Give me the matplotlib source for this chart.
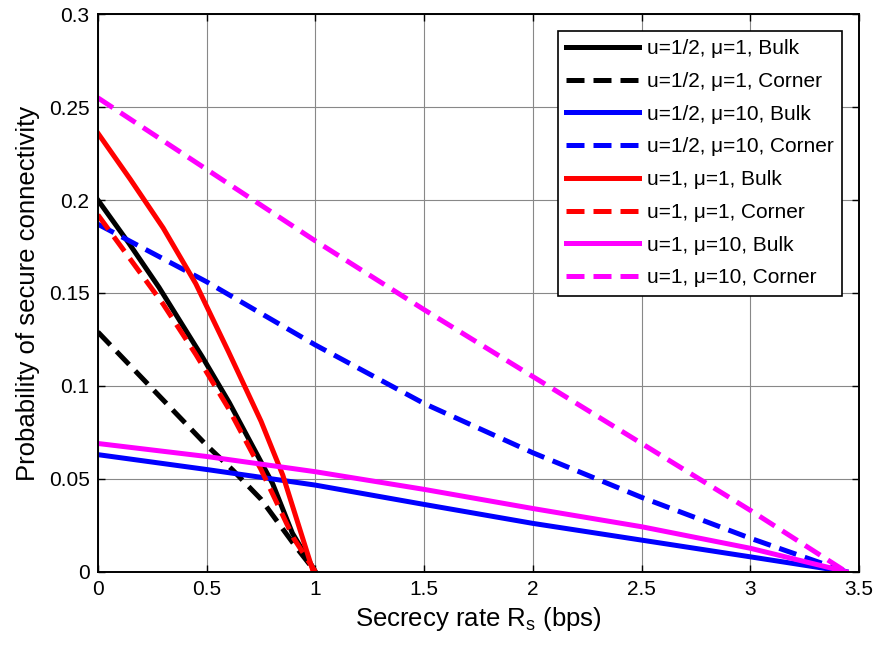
import numpy as np
import matplotlib
matplotlib.use("Agg")
import matplotlib.pyplot as plt

plt.rcParams['font.family'] = ['Liberation Sans', 'DejaVu Sans']

# curves (x in bps, y probability)
x_h1_bulk = [0, 0.143, 0.281, 0.48, 0.604, 0.803, 0.894, 1.0]
y_h1_bulk = [0.200, 0.1767, 0.153, 0.1156, 0.091, 0.0475, 0.0208, 0.0]

x_h1_corner = [0, 0.25, 0.5, 0.62, 0.75, 0.91, 1.0]
y_h1_corner = [0.129, 0.0985, 0.068, 0.0547, 0.039, 0.0134, 0.0]

x_h10_bulk = [0, 0.5, 1.0, 1.5, 2.0, 2.5, 3.0, 3.44]
y_h10_bulk = [0.063, 0.055, 0.0466, 0.0362, 0.026, 0.017, 0.008, 0.0]

x_h10_corner = [0, 0.5, 1.0, 1.5, 2.0, 2.5, 3.0, 3.44]
y_h10_corner = [0.187, 0.156, 0.122, 0.0905, 0.064, 0.040, 0.018, 0.0]

x_1_1_bulk = [0, 0.15, 0.3, 0.45, 0.6, 0.75, 0.85, 0.99]
y_1_1_bulk = [0.236, 0.211, 0.185, 0.155, 0.1185, 0.081, 0.052, 0.0]

x_1_1_corner = [0, 0.15, 0.3, 0.45, 0.6, 0.75, 0.9, 1.0]
y_1_1_corner = [0.192, 0.168, 0.144, 0.117, 0.088, 0.055, 0.018, 0.0]

x_1_10_bulk = [0, 0.5, 1.0, 1.5, 2.0, 2.5, 3.0, 3.44]
y_1_10_bulk = [0.069, 0.062, 0.0538, 0.0443, 0.034, 0.0242, 0.0126, 0.0]

x_1_10_corner = [0, 1.0, 1.5, 2.0, 2.5, 3.0, 3.44]
y_1_10_corner = [0.255, 0.178, 0.141, 0.105, 0.069, 0.033, 0.0]

x_ticks = [0, 0.5, 1, 1.5, 2, 2.5, 3, 3.5]
x_ticklabels = ['0', '0.5', '1', '1.5', '2', '2.5', '3', '3.5']
y_ticks = [0, 0.05, 0.1, 0.15, 0.2, 0.25, 0.3]
y_ticklabels = ['0', '0.05', '0.1', '0.15', '0.2', '0.25', '0.3']

series = [
    (x_h1_bulk, y_h1_bulk, 'k', '-', 'u=1/2, μ=1, Bulk'),
    (x_h1_corner, y_h1_corner, 'k', '--', 'u=1/2, μ=1, Corner'),
    (x_h10_bulk, y_h10_bulk, 'b', '-', 'u=1/2, μ=10, Bulk'),
    (x_h10_corner, y_h10_corner, 'b', '--', 'u=1/2, μ=10, Corner'),
    (x_1_1_bulk, y_1_1_bulk, 'r', '-', 'u=1, μ=1, Bulk'),
    (x_1_1_corner, y_1_1_corner, 'r', '--', 'u=1, μ=1, Corner'),
    (x_1_10_bulk, y_1_10_bulk, 'm', '-', 'u=1, μ=10, Bulk'),
    (x_1_10_corner, y_1_10_corner, 'm', '--', 'u=1, μ=10, Corner'),
]
colors = {'k': '#000000', 'b': '#0000ff', 'r': '#ff0000', 'm': '#ff00ff'}

fig = plt.figure(figsize=(8.74, 6.46), dpi=100)
ax = fig.add_axes([0.112, 0.115, 0.871, 0.863])

for xs, ys, c, ls, lab in series:
    line, = ax.plot(xs, ys, color=colors[c], linestyle=ls, linewidth=3.6, label=lab)
    if ls == '--':
        line.set_dashes((3.6, 1.8))

ax.set_xlim(0, 3.5)
ax.set_ylim(0, 0.3)
ax.set_xticks(x_ticks)
ax.set_xticklabels(x_ticklabels)
ax.set_yticks(y_ticks)
ax.set_yticklabels(y_ticklabels)
ax.tick_params(direction='in', top=True, right=True, labelsize=15, length=5, width=1, pad=6)
ax.grid(True, color='#888888', linewidth=0.8)
ax.set_axisbelow(True)
for s in ax.spines.values():
    s.set_linewidth(1.4)

ax.set_xlabel('Secrecy rate R$_\\mathregular{s}$ (bps)', fontsize=18.5, labelpad=4)
ax.set_ylabel('Probability of secure connectivity', fontsize=18.5, labelpad=6)

leg = ax.legend(loc='upper right', fontsize=15, handlelength=3.5, fancybox=False,
                framealpha=1, edgecolor='k', borderaxespad=0.8, labelspacing=0.66,
                handletextpad=0.4, borderpad=0.4)
leg.get_frame().set_linewidth(1.2)

fig.savefig('out.png', dpi=100)
